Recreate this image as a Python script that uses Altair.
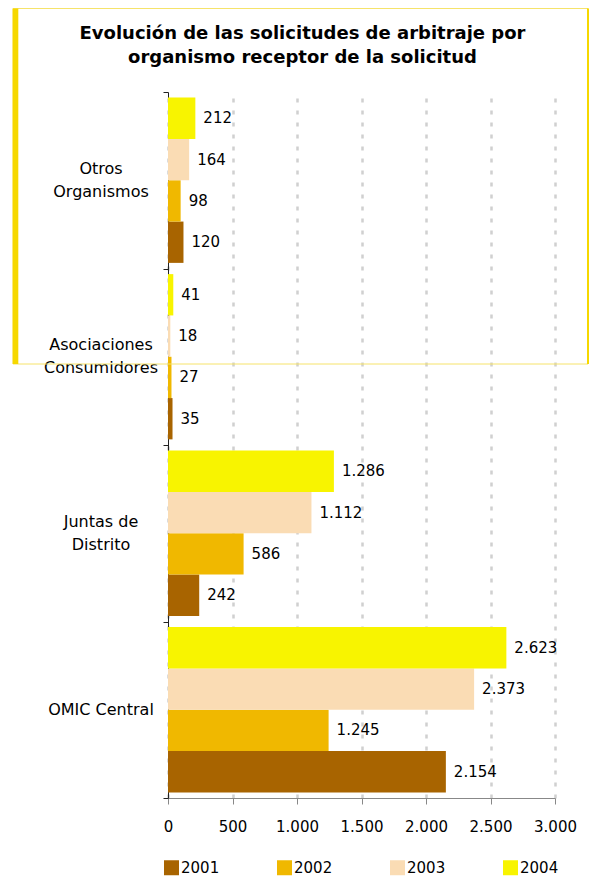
import altair as alt
import pandas as pd

# ---- data ----
organismos = ["Otros\nOrganismos", "Asociaciones\nConsumidores", "Juntas de\nDistrito", "OMIC Central"]
years = ["2001", "2002", "2003", "2004"]
v2001 = [120, 35, 242, 2154]
v2002 = [98, 27, 586, 1245]
v2003 = [164, 18, 1112, 2373]
v2004 = [212, 41, 1286, 2623]
year_colors = ["#A86400", "#F0B800", "#FADCB4", "#F8F400"]
x_ticks = [0, 500, 1000, 1500, 2000, 2500, 3000]
title_lines = ["Evolución de las solicitudes de arbitraje por", "organismo receptor de la solicitud"]

rows = []
for yr, vals in zip(years, [v2001, v2002, v2003, v2004]):
    for org, v in zip(organismos, vals):
        rows.append({"org": org, "year": yr, "value": v})
df = pd.DataFrame(rows)

lab_rows = []
for org in organismos:
    parts = org.split("\n")
    lab_rows.append({"org": org, "first": parts[0], "second": parts[1] if len(parts) > 1 else "",
                     "nlines": len(parts)})
lab_df = pd.DataFrame(lab_rows)
title_df = pd.DataFrame({"t": ["\n".join(title_lines)]})

FONT = "DejaVu Sans"
FRAME_THICK = "#F6D800"
FRAME_THIN = "#F6E36A"

y_enc = alt.Y(
    "org:N",
    sort=organismos,
    scale=alt.Scale(paddingInner=0, paddingOuter=0),
    axis=alt.Axis(
        title=None,
        labels=False,
        tickBand="extent",
        tickSize=5,
        domainColor="#222222",
        tickColor="#222222",
        grid=False,
    ),
)
yoff = alt.YOffset(
    "year:N",
    sort=["2004", "2003", "2002", "2001"],
    scale=alt.Scale(paddingInner=0, paddingOuter=0.136),
)
x_enc = alt.X(
    "value:Q",
    scale=alt.Scale(domain=[0, 3000], nice=False),
    axis=alt.Axis(
        values=x_ticks,
        title=None,
        grid=True,
        gridDash=[4, 8],
        gridColor="#D0D0D0",
        gridWidth=2.5,
        labelExpr="replace(format(datum.value, ','), ',', '.')",
        labelFlush=False,
        tickSize=6,
        labelPadding=15,
        domainColor="#888888",
        tickColor="#888888",
        labelFontSize=15,
        labelColor="black",
    ),
)
color_enc = alt.Color(
    "year:N",
    scale=alt.Scale(domain=years, range=year_colors),
    legend=alt.Legend(
        orient="none",
        legendX=-4,
        legendY=768,
        direction="horizontal",
        columns=4,
        columnPadding=57,
        title=None,
        symbolType="square",
        symbolSize=225,
        symbolStrokeWidth=0,
        symbolOpacity=1,
        labelFontSize=15,
        labelColor="black",
        labelOffset=2,
        padding=0,
    ),
)

base = alt.Chart(df).encode(y=y_enc, yOffset=yoff)
bars = base.mark_bar().encode(x=x_enc, color=color_enc)
text = base.transform_calculate(
    label="replace(format(datum.value, ','), ',', '.')"
).mark_text(align="left", baseline="middle", dx=8, fontSize=15, color="black").encode(
    x="value:Q", text="label:N"
)

# category labels (two-line labels centred on their band)
lab_base = alt.Chart(lab_df).encode(y=alt.Y("org:N", sort=organismos), x=alt.value(-67))
lab_first = lab_base.transform_filter("datum.nlines == 2").mark_text(
    align="center", baseline="middle", dy=-11.5, fontSize=16, color="black").encode(text="first:N")
lab_second = lab_base.transform_filter("datum.nlines == 2").mark_text(
    align="center", baseline="middle", dy=11.5, fontSize=16, color="black").encode(text="second:N")
lab_single = lab_base.transform_filter("datum.nlines == 1").mark_text(
    align="center", baseline="middle", fontSize=16, color="black").encode(text="first:N")

# title drawn as text, centred over the framed header
title = alt.Chart(title_df).mark_text(
    align="center", baseline="alphabetic", lineBreak="\n", lineHeight=24,
    fontSize=18, fontWeight="bold", color="black"
).encode(text="t:N", x=alt.value(134.5), y=alt.value(-53))

deco = pd.DataFrame({"k": [0]})
frame = alt.Chart(deco).mark_rect(fill="transparent", stroke=FRAME_THIN, strokeWidth=1).encode(
    x=alt.value(-155), x2=alt.value(420), y=alt.value(-83.5), y2=alt.value(272)
)
leftbar = alt.Chart(deco).mark_rect(color=FRAME_THICK).encode(
    x=alt.value(-155.3), x2=alt.value(-149.7), y=alt.value(-83.5), y2=alt.value(272)
)
rightbar = alt.Chart(deco).mark_rect(color=FRAME_THICK).encode(
    x=alt.value(419), x2=alt.value(421), y=alt.value(-83.5), y2=alt.value(272)
)

chart = alt.layer(
    bars, text, lab_first, lab_second, lab_single, title, frame, leftbar, rightbar
).properties(
    width=387,
    height=706,
    autosize="none",
    padding={"left": 160, "top": 84, "right": 34, "bottom": 78},
).configure(font=FONT).configure_view(stroke=None)

chart.save("out.html", embed_options={"renderer": "svg", "actions": False})
